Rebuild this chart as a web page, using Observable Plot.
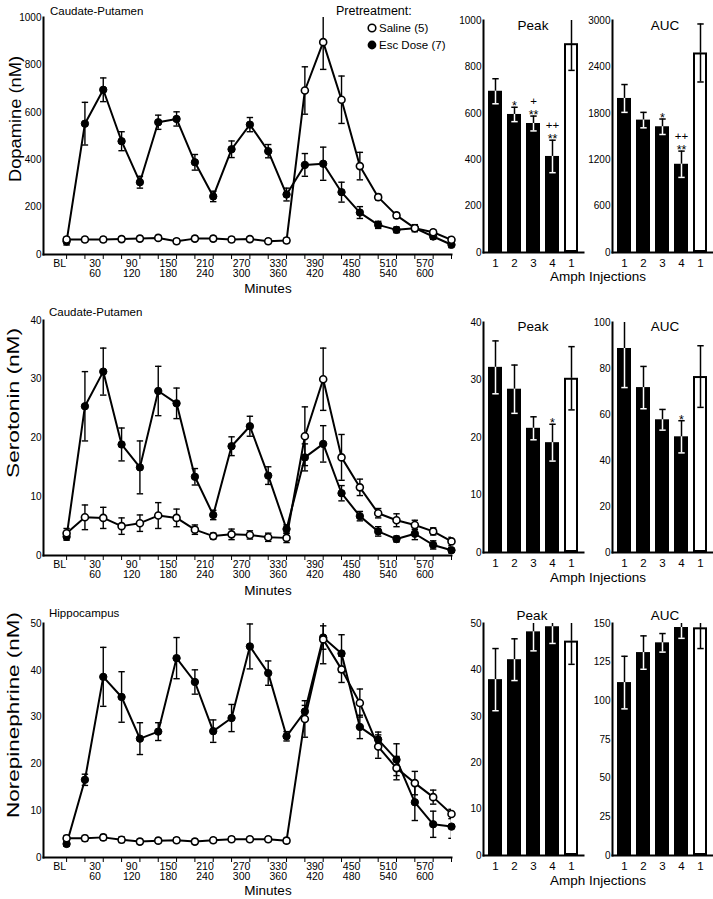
<!DOCTYPE html>
<html><head><meta charset="utf-8">
<script src="https://cdn.jsdelivr.net/npm/d3@7"></script>
<script src="https://cdn.jsdelivr.net/npm/@observablehq/plot@0.6"></script>
<style>
body{margin:0;background:#fff;}
#chart{position:relative;width:713px;height:899px;background:#fff;font-family:"Liberation Sans",Arial,sans-serif;overflow:hidden;}
#chart svg{position:absolute;}
</style></head><body><div id="chart"></div>
<script>
// ---------- data ----------
const minutes = ["BL",30,60,90,120,150,180,210,240,270,300,330,360,390,420,450,480,510,540,570,600,630];
const xTickLabels = ["BL","30\n60","90\n120","150\n180","210\n240","270\n300","330\n360","390\n420","450\n480","510\n540","570\n600"];

// Dopamine, caudate-putamen (nM)
const daEsc    = [55,552,695,478,305,558,572,389,245,444,548,436,253,378,383,263,177,125,104,111,76,41];
const daEscErr = [15,90,50,40,25,30,30,33,22,35,30,28,27,48,70,42,25,15,12,15,12,12];
const daSal    = [63,63,63,65,67,70,56,67,67,63,65,56,59,692,896,653,373,242,165,111,94,62];
const daSalErr = [10,10,10,10,10,10,10,10,10,10,10,10,10,100,115,100,58,12,10,10,10,12];

// Serotonin, caudate-putamen (nM)
const htEsc    = [3.2,25.4,31.3,18.9,15.0,28.0,25.9,13.4,6.9,18.6,22.0,13.6,4.5,16.7,19.0,10.6,6.7,4.1,2.8,3.7,1.8,0.9];
const htEscErr = [0.6,5.9,4.0,2.8,4.5,4.2,2.6,1.4,0.8,1.6,1.7,1.5,0.7,2.3,3.1,1.3,0.8,0.8,0.5,1.0,0.7,0.5];
const htSal    = [3.8,6.5,6.4,5.0,5.5,6.8,6.4,4.4,3.3,3.6,3.5,3.1,3.0,20.3,30.0,16.7,11.6,7.2,6.0,5.2,4.1,2.4];
const htSalErr = [0.8,2.1,1.8,1.4,1.4,2.2,1.5,0.8,0.5,0.9,0.7,0.7,0.8,5.0,5.3,3.9,1.4,0.8,1.1,0.8,0.6,0.7];

// Norepinephrine, hippocampus (nM)
const neEsc    = [2.9,16.6,38.6,34.3,25.4,26.9,42.6,37.5,27.0,29.8,45.1,39.4,25.9,31.2,47.0,43.6,27.9,25.2,20.9,11.8,7.1,6.6];
const neEscErr = [0.5,1.2,6.3,5.4,3.4,1.9,4.4,2.6,2.4,2.9,4.8,2.6,1.0,1.3,2.5,4.0,2.5,1.6,3.4,3.9,2.8,2.5];
const neSal    = [4.1,4.1,4.3,3.8,3.4,3.6,3.7,3.4,3.7,3.9,3.9,3.9,3.6,29.6,46.6,40.2,33.0,23.7,19.1,15.9,12.9,9.3];
const neSalErr = [0.6,0.6,0.6,0.6,0.5,0.5,0.5,0.5,0.5,0.5,0.5,0.5,0.5,3.9,5.2,2.8,3.0,2.5,2.5,2.5,1.5,1.0];

// Bar panels: Amph injections
const injections = ["1","2","3","4","1"];
const pretreat   = ["Esc","Esc","Esc","Esc","Saline"];

const daPeak = [695,595,556,414,900];      const daPeakErr = [54,31,32,70,115];
const daPeakSig = ["","*","**","**",""];   const daPeakSig2 = ["","","+","++",""];
const daAuc  = [1992,1712,1626,1141,2580]; const daAucErr  = [180,100,100,170,375];
const daAucSig = ["","","*","**",""];      const daAucSig2 = ["","","","++",""];
const htPeak = [32.2,28.4,21.6,19.1,30.3]; const htPeakErr = [4.6,4.2,2.0,3.2,5.5];
const htPeakSig = ["","","","*",""];
const htAuc  = [88.7,71.7,57.7,50.3,76.5]; const htAucErr  = [17,9.2,4.5,7,13.4];
const htAucSig = ["","","","*",""];
const nePeak = [37.9,42.2,48.2,49.3,46.2]; const nePeakErr = [6.7,4.5,4.1,3.6,5];
const neAuc  = [111.8,131.2,137.5,147.4,147.2]; const neAucErr = [17,10.8,6,7,13.4];

// ---------- helpers ----------
const FONT = "'Liberation Sans', Arial, sans-serif";
const cap = {draw(ctx, size) { const r = Math.sqrt(size / Math.PI); ctx.moveTo(-r, 0); ctx.lineTo(r, 0); }};
const labelText = new Map();
const labelPos = xTickLabels.map(s => {
  const parts = s.split("\n");
  let p;
  if (parts[0] === "BL") p = minutes.indexOf("BL") - 0.38;
  else p = d3.mean(parts, q => minutes.indexOf(+q)) + 0.05;
  labelText.set(p, s);
  return p;
});
const chart = document.getElementById("chart");
function place(svg, left, top) { svg.style.left = left + "px"; svg.style.top = top + "px"; chart.appendChild(svg); }
const baseStyle = {background: "transparent", overflow: "visible", fontFamily: FONT, color: "black"};
const intFmt = d3.format("d");

function rows(vals, errs) { return vals.map((v, i) => ({i, v, lo: v - errs[i], hi: v + errs[i]})); }

function linePanel(c) {
  const esc = rows(c.esc, c.escErr), sal = rows(c.sal, c.salErr);
  const err = r => [
    Plot.ruleX(r, {x: "i", y1: "lo", y2: "hi", stroke: "black", strokeWidth: 1.4, clip: true}),
    Plot.dot(r, {x: "i", y: "hi", symbol: cap, r: 3.2, fill: "none", stroke: "black", strokeWidth: 1.4, clip: true}),
    Plot.dot(r, {x: "i", y: "lo", symbol: cap, r: 3.2, fill: "none", stroke: "black", strokeWidth: 1.4, clip: true})
  ];
  return Plot.plot({
    width: 460, height: c.height, marginLeft: 43, marginRight: 9, marginTop: c.mt, marginBottom: c.mb,
    style: baseStyle,
    x: {domain: [-1.26, minutes.length - 1]},
    y: {domain: [0, c.ymax]},
    marks: [
      Plot.axisY({ticks: c.yticks, tickSize: 0, tickPadding: 2, tickFormat: intFmt, fontSize: 10, label: null}),
      Plot.axisX({ticks: d3.range(minutes.length), tickSize: 5, tickFormat: () => "", label: null}),
      Plot.axisX({ticks: labelPos, tickSize: 0, tickPadding: 5, tickFormat: d => labelText.get(d), fontSize: 10.5, label: null}),
      ...err(esc), ...err(sal),
      Plot.line(esc, {x: "i", y: "v", stroke: "black", strokeWidth: 2}),
      Plot.line(sal, {x: "i", y: "v", stroke: "black", strokeWidth: 2}),
      Plot.dot(esc, {x: "i", y: "v", r: 3.7, fill: "black", stroke: "black", strokeWidth: 1}),
      Plot.dot(sal, {x: "i", y: "v", r: 3.5, fill: "white", stroke: "black", strokeWidth: 1.6}),
      Plot.frame({anchor: "left", strokeWidth: 2}),
      Plot.frame({anchor: "bottom", strokeWidth: 2})
    ]
  });
}

function barPanel(c) {
  const data = injections.map((lab, k) => ({k, v: c.v[k], lo: c.v[k] - c.e[k], hi: c.v[k] + c.e[k],
    sig: c.sig ? c.sig[k] : "", sig2: c.sig2 ? c.sig2[k] : "", open: pretreat[k] === "Saline"}));
  const closed = data.filter(d => !d.open), open = data.filter(d => d.open);
  return Plot.plot({
    width: c.width, height: c.height, marginLeft: c.ml, marginRight: c.mr, marginTop: c.mt, marginBottom: c.mb,
    style: baseStyle,
    x: {type: "band", domain: d3.range(injections.length), paddingInner: 0.28, paddingOuter: 0.216},
    y: {domain: [0, c.ymax]},
    marks: [
      Plot.axisY({ticks: c.yticks, tickSize: 0, tickPadding: 2, tickFormat: intFmt, fontSize: 10, label: null}),
      Plot.axisX({tickSize: 0, tickPadding: 6, tickFormat: k => injections[k], fontSize: 11.5, label: null}),
      Plot.barY(closed, {x: "k", y: "v", fill: "black", inset: 0}),
      Plot.barY(open, {x: "k", y: "v", fill: "white", stroke: "black", strokeWidth: 2, inset: 1}),
      Plot.ruleX(data, {x: "k", y1: "v", y2: "hi", stroke: "black", strokeWidth: 1.5, clip: true}),
      Plot.dot(data, {x: "k", y: "hi", symbol: cap, r: 3.2, fill: "none", stroke: "black", strokeWidth: 1.5, clip: true}),
      Plot.ruleX(closed, {x: "k", y1: "lo", y2: "v", stroke: "white", strokeWidth: 1.5}),
      Plot.dot(closed, {x: "k", y: "lo", symbol: cap, r: 3.2, fill: "none", stroke: "white", strokeWidth: 1.5}),
      Plot.ruleX(open, {x: "k", y1: "lo", y2: "v", stroke: "black", strokeWidth: 1.5}),
      Plot.dot(open, {x: "k", y: "lo", symbol: cap, r: 3.2, fill: "none", stroke: "black", strokeWidth: 1.5}),
      Plot.text(data, {x: "k", y: "hi", text: "sig", lineAnchor: "bottom", dy: 3, fontSize: 12.5}),
      Plot.text(data, {x: "k", y: "hi", text: "sig2", lineAnchor: "bottom", dy: -11.5, fontSize: 11.5}),
      Plot.frame({anchor: "left", strokeWidth: 2}),
      Plot.frame({anchor: "bottom", strokeWidth: 2})
    ]
  });
}

// ---------- rows ----------
const rowsCfg = [
  {top: 0, lh: 290, lmt: 17, lmb: 36, bh: 282, bmt: 20, bmb: 30,
   line: {ymax: 1000, yticks: [0,200,400,600,800,1000], esc: daEsc, escErr: daEscErr, sal: daSal, salErr: daSalErr},
   peak: {v: daPeak, e: daPeakErr, sig: daPeakSig, sig2: daPeakSig2, ymax: 1000, yticks: [0,200,400,600,800,1000]},
   auc: {v: daAuc, e: daAucErr, sig: daAucSig, sig2: daAucSig2, ymax: 3000, yticks: [0,600,1200,1800,2400,3000]}},
  {top: 300, lh: 290, lmt: 20, lmb: 35, bh: 274, bmt: 22, bmb: 22,
   line: {ymax: 40, yticks: [0,10,20,30,40], esc: htEsc, escErr: htEscErr, sal: htSal, salErr: htSalErr},
   peak: {v: htPeak, e: htPeakErr, sig: htPeakSig, ymax: 40, yticks: [0,10,20,30,40]},
   auc: {v: htAuc, e: htAucErr, sig: htAucSig, ymax: 100, yticks: [0,20,40,60,80,100]}},
  {top: 600, lh: 299, lmt: 23, lmb: 42, bh: 280, bmt: 23, bmb: 25,
   line: {ymax: 50, yticks: [0,10,20,30,40,50], esc: neEsc, escErr: neEscErr, sal: neSal, salErr: neSalErr},
   peak: {v: nePeak, e: nePeakErr, ymax: 50, yticks: [0,10,20,30,40,50]},
   auc: {v: neAuc, e: neAucErr, ymax: 150, yticks: [0,25,50,75,100,125,150]}}
];

for (const r of rowsCfg) {
  place(linePanel({...r.line, height: r.lh, mt: r.lmt, mb: r.lmb}), 0, r.top);
  place(barPanel({...r.peak, width: 145, ml: 43, mr: 2, height: r.bh, mt: r.bmt, mb: r.bmb}), 440, r.top);
  place(barPanel({...r.auc, width: 133, ml: 32, mr: 1, height: r.bh, mt: r.bmt, mb: r.bmb}), 580, r.top);
}

// ---------- text overlay ----------
const ov = d3.select(chart).append("svg").attr("width", 713).attr("height", 899)
  .style("left", "0px").style("top", "0px").style("pointer-events", "none")
  .attr("font-family", FONT);
function txt(s, x, y, size, anchor = "middle") {
  return ov.append("text").attr("x", x).attr("y", y).attr("font-size", size)
    .attr("text-anchor", anchor).attr("dominant-baseline", "central").attr("fill", "black").text(s);
}
function ylab(s, x, y, size, len) {
  txt(s, x, y, size).attr("transform", `rotate(-90 ${x} ${y})`)
    .attr("textLength", len).attr("lengthAdjust", "spacingAndGlyphs");
}
// row 1
txt("Caudate-Putamen", 50, 11, 11.5, "start");
ylab("Dopamine (nM)", 15, 119, 17, 126);
txt("Minutes", 268, 288, 13.5);
txt("Peak", 533, 25, 13.5); txt("AUC", 665, 25, 13.5);
txt("Amph Injections", 598, 276, 13.5);
txt("Pretreatment:", 336, 11, 12.5, "start");
ov.append("circle").attr("cx", 372).attr("cy", 28).attr("r", 3.8).attr("fill", "white").attr("stroke", "black").attr("stroke-width", 1.6);
ov.append("circle").attr("cx", 372).attr("cy", 45).attr("r", 4.4).attr("fill", "black");
txt("Saline (5)", 379, 28, 11.5, "start");
txt("Esc Dose (7)", 379, 45, 11.5, "start");
// row 2
txt("Caudate-Putamen", 49, 312, 11.5, "start");
ylab("Serotonin (nM)", 13, 403, 17, 150);
txt("Minutes", 268, 590, 13.5);
txt("Peak", 533, 326, 13.5); txt("AUC", 665, 326, 13.5);
txt("Amph Injections", 598, 577, 13.5);
// row 3
txt("Hippocampus", 49, 613, 11.5, "start");
ylab("Norepinephrine (nM)", 13, 715, 17, 206);
txt("Minutes", 268, 890, 13.5);
txt("Peak", 532, 615, 13.5); txt("AUC", 665, 615, 13.5);
txt("Amph Injections", 598, 880, 13.5);
</script>
</body></html>
